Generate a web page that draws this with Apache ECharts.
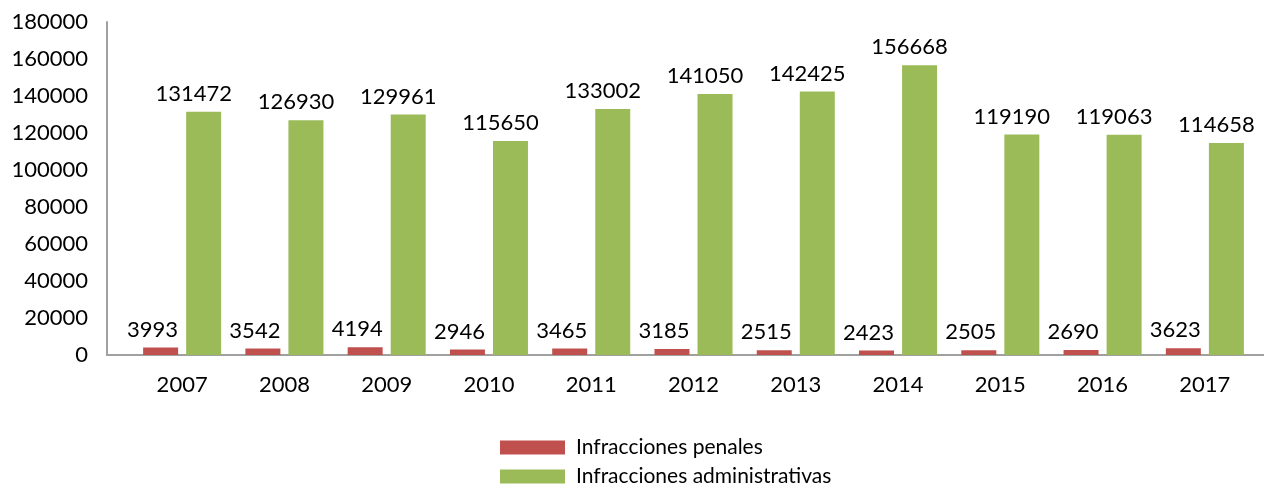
<!DOCTYPE html>
<html>
<head>
<meta charset="utf-8">
<script src="https://cdn.jsdelivr.net/npm/echarts@6/dist/echarts.min.js"></script>
<style>
  html, body { margin: 0; padding: 0; background: #fff; }
  #chart { width: 1264px; height: 484px; }
</style>
</head>
<body>
<div id="chart"></div>
<script>
const years = ['2007', '2008', '2009', '2010', '2011', '2012', '2013', '2014', '2015', '2016', '2017']
const penales = [3993, 3542, 4194, 2946, 3465, 3185, 2515, 2423, 2505, 2690, 3623]
const administrativas = [131472, 126930, 129961, 115650, 133002, 141050, 142425, 156668, 119190, 119063, 114658]

const font = 'Lato, "Open Sans", sans-serif'
const chart = echarts.init(document.getElementById('chart'))

const labelStyle = (dx) => ({
  show: true,
  position: 'top',
  distance: 7,
  offset: [dx, 0],
  color: '#000',
  fontSize: 22,
  fontFamily: font
})

const legendBase = {
  left: 495,
  itemWidth: 65,
  itemHeight: 14,
  icon: 'rect',
  textStyle: { fontSize: 21, color: '#000', fontFamily: font, padding: [0, 0, 0, 6] }
}

chart.setOption({
  animation: false,
  backgroundColor: '#fff',
  textStyle: { fontFamily: font },
  grid: [
    { left: 131, right: 8, top: 22, bottom: 129 },
    // only used to draw the full-width baseline
    { left: 107, right: 0, top: 22, bottom: 129 }
  ],
  legend: [
    Object.assign({}, legendBase, { top: 432, data: ['Infracciones penales'] }),
    Object.assign({}, legendBase, { top: 461, data: ['Infracciones administrativas'] })
  ],
  xAxis: [
    {
      gridIndex: 0,
      type: 'category',
      data: years,
      axisLine: { show: false },
      axisTick: { show: false },
      axisLabel: { fontSize: 22, color: '#000', margin: 19, fontFamily: font }
    },
    {
      gridIndex: 1,
      type: 'category',
      data: years,
      axisLine: { show: true, lineStyle: { color: '#a0a0a0', width: 2 } },
      axisTick: { show: false },
      axisLabel: { show: false }
    }
  ],
  yAxis: [
    {
      gridIndex: 0,
      type: 'value',
      min: 0,
      max: 180000,
      interval: 20000,
      offset: 24,
      axisLine: { show: true, lineStyle: { color: '#a0a0a0', width: 2 } },
      axisTick: { show: false },
      splitLine: { show: false },
      axisLabel: { fontSize: 22, color: '#000', margin: 19, fontFamily: font, formatter: v => String(v) }
    },
    {
      gridIndex: 1,
      type: 'value',
      min: 0,
      max: 180000,
      show: false
    }
  ],
  series: [
    {
      name: 'Infracciones penales',
      type: 'bar',
      data: penales,
      barWidth: 35,
      barGap: '23%',
      itemStyle: { color: '#C0504D' },
      label: labelStyle(-8)
    },
    {
      name: 'Infracciones administrativas',
      type: 'bar',
      data: administrativas,
      barWidth: 35,
      barGap: '23%',
      itemStyle: { color: '#9BBB59' },
      label: labelStyle(-10)
    }
  ]
})
</script>
</body>
</html>
